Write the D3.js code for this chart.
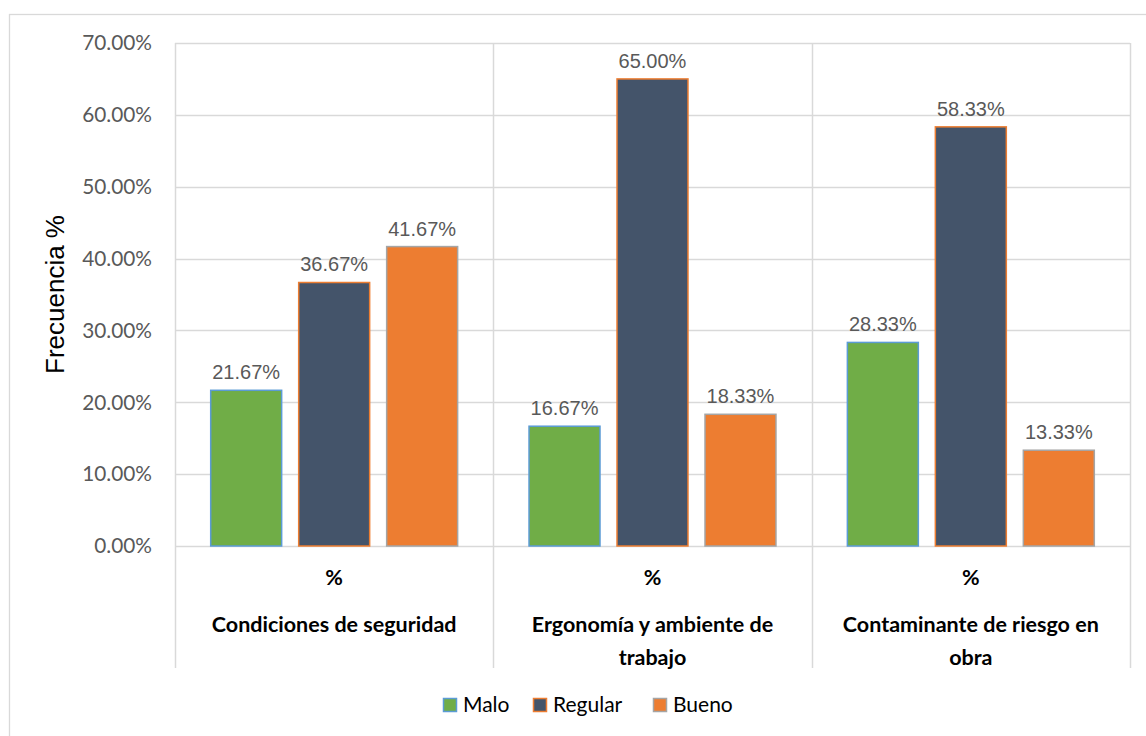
<!DOCTYPE html>
<html>
<head>
<meta charset="utf-8">
<script src="https://cdn.jsdelivr.net/npm/d3@7/dist/d3.min.js"></script>
<style>
  html, body { margin: 0; padding: 0; background: #fff; }
  svg { display: block; }
</style>
</head>
<body>
<svg id="chart" width="1146" height="736"></svg>
<script>
// Categories and series values (percent)
const categories = ["Condiciones de seguridad", "Ergonomía y ambiente de trabajo", "Contaminante de riesgo en obra"];
const subLabel = "%";
const seriesNames = ["Malo", "Regular", "Bueno"];
const malo = [21.67, 16.67, 28.33];
const regular = [36.67, 65.00, 58.33];
const bueno = [41.67, 18.33, 13.33];
const yTicks = [0, 10, 20, 30, 40, 50, 60, 70];

const fills = { Malo: "#70AD47", Regular: "#44546A", Bueno: "#ED7D31" };
const strokes = { Malo: "#5B9BD5", Regular: "#ED7D31", Bueno: "#A5A5A5" };
const seriesValues = { Malo: malo, Regular: regular, Bueno: bueno };

const svg = d3.select("#chart");
const W = 1146, H = 736;
const plot = { left: 175, right: 1130, top: 43, bottom: 546 };
const catAxisBottom = 668;
const grid = "#D9D9D9";

// Chart frame
svg.append("rect")
  .attr("x", 9.5).attr("y", 14.5)
  .attr("width", W + 20).attr("height", H + 20)
  .attr("fill", "#fff").attr("stroke", grid).attr("stroke-width", 1.3);

const x = d3.scaleBand().domain(categories).range([plot.left, plot.right]).paddingInner(0).paddingOuter(0);
const xs = d3.scaleBand().domain(seriesNames).range([0, x.bandwidth()]).paddingInner(0.182).paddingOuter(0.4);
const y = d3.scaleLinear().domain([0, 70]).range([plot.bottom, plot.top]);

// Horizontal gridlines
svg.append("g").selectAll("line").data(yTicks).join("line")
  .attr("x1", plot.left).attr("x2", plot.right)
  .attr("y1", d => Math.round(y(d)) + 0.5).attr("y2", d => Math.round(y(d)) + 0.5)
  .attr("stroke", grid).attr("stroke-width", 1.5);

// Category separators (including the plot edges), reaching down through the label area
const seps = categories.map(c => x(c)).concat([plot.right]);
svg.append("g").selectAll("line").data(seps).join("line")
  .attr("x1", d => Math.round(d) + 0.5).attr("x2", d => Math.round(d) + 0.5)
  .attr("y1", plot.top).attr("y2", catAxisBottom)
  .attr("stroke", grid).attr("stroke-width", 1.5);

// Y axis tick labels
svg.append("g").selectAll("text").data(yTicks).join("text")
  .attr("x", 152).attr("y", d => y(d))
  .attr("dy", "0.35em")
  .attr("text-anchor", "end")
  .attr("font-family", "Lato, 'Open Sans', sans-serif")
  .attr("font-size", 20.8)
  .attr("fill", "#595959")
  .text(d => d3.format(".2f")(d) + "%");

// Y axis title
svg.append("text")
  .attr("transform", `translate(64,${(plot.top + plot.bottom) / 2}) rotate(-90)`)
  .attr("text-anchor", "middle")
  .attr("font-family", "'Liberation Sans', Arial, sans-serif")
  .attr("font-size", 26)
  .attr("fill", "#000")
  .text("Frecuencia %");

// Bars
const groups = svg.append("g").selectAll("g").data(categories).join("g")
  .attr("transform", d => `translate(${x(d)},0)`);

const barData = (c, i) => seriesNames.map(s => ({ s, v: seriesValues[s][i] }));

groups.selectAll("rect").data(barData).join("rect")
  .attr("x", d => xs(d.s) + 0.5)
  .attr("y", d => y(d.v))
  .attr("width", xs.bandwidth() - 1)
  .attr("height", d => y(0) - y(d.v))
  .attr("fill", d => fills[d.s])
  .attr("stroke", d => strokes[d.s])
  .attr("stroke-width", 1.5);

// Value labels
groups.selectAll("text.val").data(barData).join("text")
  .attr("class", "val")
  .attr("x", d => xs(d.s) + xs.bandwidth() / 2)
  .attr("y", d => y(d.v) - 11)
  .attr("text-anchor", "middle")
  .attr("font-family", "'Liberation Sans', Arial, sans-serif")
  .attr("font-size", 20)
  .attr("fill", "#595959")
  .text(d => d3.format(".2f")(d.v) + "%");

// Category axis labels: "%" row then wrapped category names
groups.append("text")
  .attr("x", x.bandwidth() / 2).attr("y", 585)
  .attr("text-anchor", "middle")
  .attr("font-family", "Lato, sans-serif").attr("font-weight", "bold")
  .attr("font-size", 21.5).attr("fill", "#000")
  .text(subLabel);

groups.each(function (c) {
  const g = d3.select(this);
  const t = g.append("text")
    .attr("text-anchor", "middle")
    .attr("font-family", "Lato, sans-serif").attr("font-weight", "bold")
    .attr("font-size", 21.5).attr("fill", "#000");
  const words = c.split(" ");
  const lines = [];
  let line = [];
  const probe = t.append("tspan");
  words.forEach(w => {
    const test = line.concat([w]).join(" ");
    probe.text(test);
    if (probe.node().getComputedTextLength() > 275 && line.length) {
      lines.push(line.join(" "));
      line = [w];
    } else {
      line.push(w);
    }
  });
  lines.push(line.join(" "));
  probe.remove();
  lines.forEach((l, i) => {
    t.append("tspan").attr("x", x.bandwidth() / 2).attr("y", 632 + i * 33).text(l);
  });
});

// Legend
const legendItems = [
  { s: "Malo", x: 443 },
  { s: "Regular", x: 533 },
  { s: "Bueno", x: 653 }
];
const lg = svg.append("g").selectAll("g").data(legendItems).join("g")
  .attr("transform", d => `translate(${d.x},705)`);
lg.append("rect")
  .attr("x", 0.5).attr("y", -6.5).attr("width", 13).attr("height", 13)
  .attr("fill", d => fills[d.s]).attr("stroke", d => strokes[d.s]).attr("stroke-width", 1.5);
lg.append("text")
  .attr("x", 20).attr("y", 0).attr("dy", "0.35em")
  .attr("font-family", "Lato, sans-serif").attr("font-size", 21).attr("fill", "#000")
  .text(d => d.s);
</script>
</body>
</html>
